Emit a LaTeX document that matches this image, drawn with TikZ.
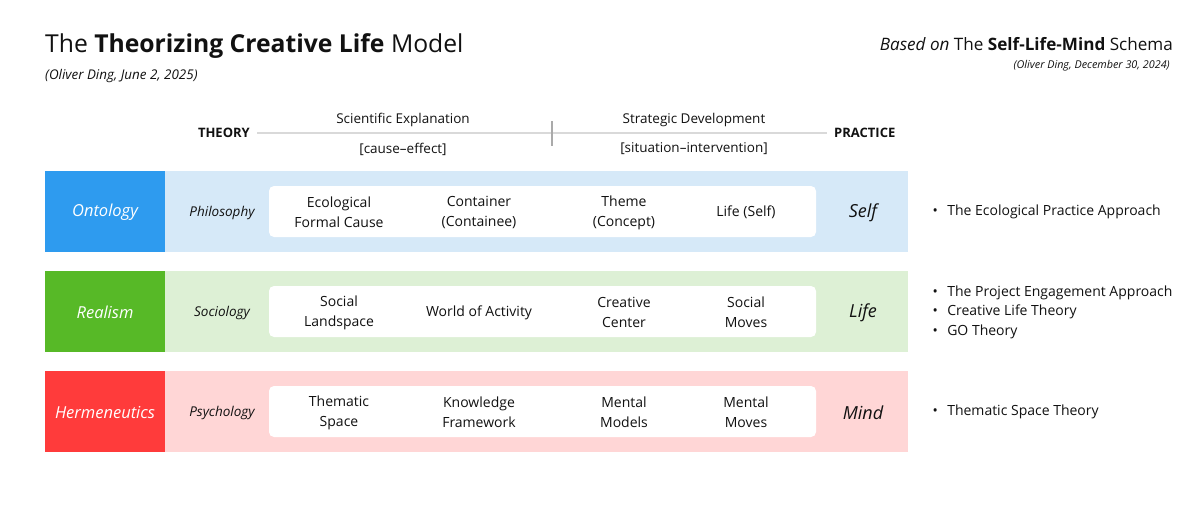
\documentclass[tikz,border=0pt]{standalone}
\usepackage{fontspec}
\setmainfont{Open Sans}
\definecolor{oblue}{HTML}{2E9BEF}
\definecolor{lblue}{HTML}{D6E9F8}
\definecolor{rgreen}{HTML}{57B927}
\definecolor{lgreen}{HTML}{DDF0D5}
\definecolor{hred}{HTML}{FF3B3B}
\definecolor{lred}{HTML}{FFD6D6}
\definecolor{rulegray}{HTML}{D9D9D9}
\definecolor{tickgray}{HTML}{AAAAAA}
\definecolor{txt}{HTML}{111111}
\tikzset{
  band/.style={draw=none},
  lefttag/.style={font=\fontsize{16.5}{20}\selectfont\itshape, text=white, anchor=center},
  discip/.style={font=\fontsize{13.5}{18}\selectfont\itshape, text=txt, anchor=center},
  item/.style={font=\fontsize{14}{20}\selectfont, text=txt, align=center, anchor=center},
  practice/.style={font=\fontsize{18}{22}\selectfont\itshape, text=txt, anchor=center},
  bul/.style={font=\fontsize{14}{19.5}\selectfont, text=txt, anchor=west, align=left},
  head/.style={font=\fontsize{13.5}{16}\selectfont, text=txt, anchor=center},
}
\begin{document}
\begin{tikzpicture}[x=1pt,y=-1pt]
\useasboundingbox[fill=white] (0,0) rectangle (1200,504);
% titles
\node[anchor=base west, inner sep=0, font=\fontsize{24.7}{30}\selectfont, text=txt] (title) at (45,52) {The \textbf{Theorizing Creative Life} Model};
\node[anchor=base west, inner sep=0, font=\fontsize{13.4}{15}\selectfont\itshape, text=txt] (sub) at (45,79) {(Oliver Ding, June 2, 2025)};
\node[anchor=base east, inner sep=0, font=\fontsize{17.1}{22}\selectfont, text=txt] (based) at (1173,50) {\textit{Based on} The \textbf{Self-Life-Mind} Schema};
\node[anchor=base east, inner sep=0, font=\fontsize{10.8}{12}\selectfont\itshape, text=txt] (bsub) at (1170,68) {(Oliver Ding, December 30, 2024)};
% header
\node[head, font=\fontsize{13}{16}\selectfont\bfseries, anchor=east, inner sep=0] (theory) at (250,133) {THEORY};
\node[head, font=\fontsize{13}{16}\selectfont\bfseries, anchor=west, inner sep=0] (practice) at (834,133) {PRACTICE};
\coordinate (ls) at (257,133);
\coordinate (le) at (827,133);
\draw[rulegray, line width=1.2pt] (ls) -- (le);
\coordinate (t1) at (552,121);
\coordinate (t2) at (552,146);
\draw[tickgray, line width=2.5pt] (t1) -- (t2);
\node[head] (sci) at (403,120) {Scientific Explanation};
\node[head] (ce) at (403,149) {[cause–effect]};
\node[head] (strat) at (694,120) {Strategic Development};
\node[head] (si) at (694,149) {[situation–intervention]};
% rows
\foreach \y/\dark/\light/\tag/\disc/\pr/\a/\b/\c/\d in {
  171/oblue/lblue/Ontology/Philosophy/Self/{Ecological\\Formal Cause}/{Container\\(Containee)}/{Theme\\(Concept)}/{Life (Self)},
  271/rgreen/lgreen/Realism/Sociology/Life/{Social\\Landspace}/{World of Activity}/{Creative\\Center}/{Social\\Moves},
  371/hred/lred/Hermeneutics/Psychology/Mind/{Thematic\\Space}/{Knowledge\\Framework}/{Mental\\Models}/{Mental\\Moves}}{
  \fill[\light] (165,\y) rectangle (908,\y+81);
  \fill[\dark] (45,\y) rectangle (165,\y+81);
  \fill[white, rounded corners=5pt] (269,\y+15) rectangle (816,\y+66);
  \node[lefttag] (tag-\tag) at (105,\y+41.5) {\tag};
  \node[discip] (disc-\tag) at (222,\y+41.5) {\disc};
  \node[item] (a-\tag) at (339,\y+41.5) {\a};
  \node[item] (b-\tag) at (479,\y+41.5) {\b};
  \node[item] (c-\tag) at (624,\y+41.5) {\c};
  \node[item] (d-\tag) at (746,\y+41.5) {\d};
  \node[practice] (p-\tag) at (863,\y+41.5) {\pr};
}
% bullets
\node[bul] (b1) at (929,212) {\textbullet\hspace{9.5pt}The Ecological Practice Approach};
\node[bul] (b2) at (929,312) {\textbullet\hspace{9.5pt}The Project Engagement Approach\\\textbullet\hspace{9.5pt}Creative Life Theory\\\textbullet\hspace{9.5pt}GO Theory};
\node[bul] (b3) at (929,412) {\textbullet\hspace{9.5pt}Thematic Space Theory};
\end{tikzpicture}
\end{document}
